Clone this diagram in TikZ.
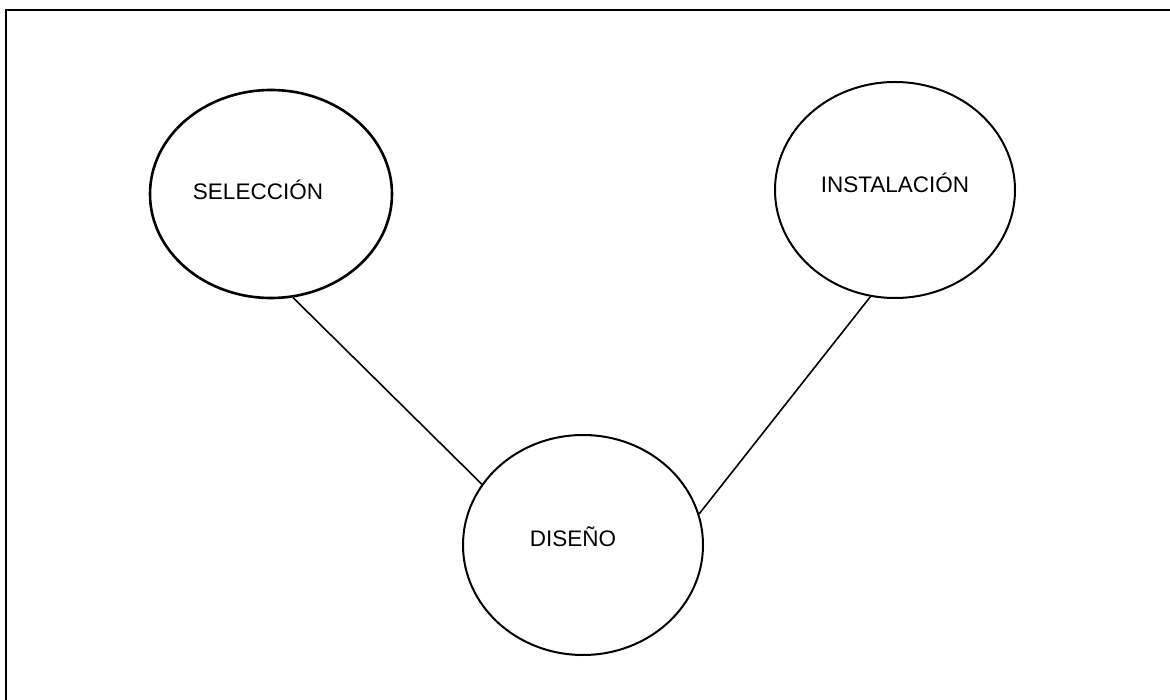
\documentclass[tikz,border=0pt]{standalone}
\usepackage{fontspec}
\setmainfont{Liberation Sans}
\usetikzlibrary{shapes.geometric}
\begin{document}
\begin{tikzpicture}[x=1pt,y=-1pt,
  stage/.style={draw, ellipse, inner sep=0pt, line width=#1},
  stage/.default=2pt,
  stagetext/.style={font=\fontsize{22.5}{26}\selectfont, inner sep=0pt},
  link/.style={line width=1.6pt}]
  \useasboundingbox (0,0) rectangle (1170,700);
  \clip (0,0) rectangle (1170,700);
  % outer frame (runs past the right and bottom edges)
  \draw[line width=2.7pt] (6,10) rectangle (1190,720);

  % the three stages
  \node[stage=2.6pt, minimum width=242pt, minimum height=208pt] (sel) at (271,194) {};
  \node[stage, minimum width=240pt, minimum height=216pt] (inst) at (895,190) {};
  \node[stage, minimum width=240pt, minimum height=220pt] (dis) at (583,545) {};

  \node[stagetext] (selt) at (258,190) {SELECCIÓN};
  \node[stagetext] (instt) at (895,183) {INSTALACIÓN};
  \node[stagetext] (dist) at (573,537) {DISEÑO};

  % connectors
  \draw[link] (sel.-78) -- (dis.149);
  \draw[link] (inst.-103) -- (dis.15);
\end{tikzpicture}
\end{document}
